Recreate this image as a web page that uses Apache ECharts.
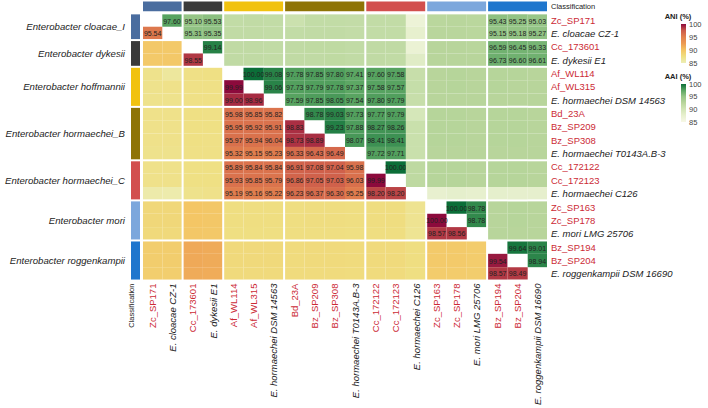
<!DOCTYPE html>
<html>
<head>
<meta charset="utf-8">
<script src="https://cdn.jsdelivr.net/npm/echarts@6/dist/echarts.min.js"></script>
<style>
html, body { margin: 0; background: #fff; }
#chart { width: 708px; height: 408px; }
</style>
</head>
<body>
<div id="chart"></div>
<script>
// kannat / strains in plot order
const strains = ['Zc_SP171', 'E. cloacae CZ-1', 'Cc_173601', 'E. dykesii E1', 'Af_WL114', 'Af_WL315',
  'E. hormaechei DSM 14563', 'Bd_23A', 'Bz_SP209', 'Bz_SP308', 'E. hormaechei T0143A.B-3',
  'Cc_172122', 'Cc_172123', 'E. hormaechei C126', 'Zc_SP163', 'Zc_SP178', 'E. mori LMG 25706',
  'Bz_SP194', 'Bz_SP204', 'E. roggenkampii DSM 16690']

const groupNames = ['Enterobacter cloacae_I', 'Enterobacter dykesii', 'Enterobacter hoffmannii',
  'Enterobacter hormaechei_B', 'Enterobacter hormaechei_C', 'Enterobacter mori', 'Enterobacter roggenkampii']
const groupSizes = [2, 2, 3, 4, 3, 3, 3]
const groupColors = ['#4a6d9f', '#3a3a3a', '#f1c20f', '#8e7406', '#d24f4e', '#7ca7dc', '#1f76cd']

// upper triangle = AAI, lower triangle = ANI
const identity = [
  [null, 97.60, 95.10, 95.53, 91.6, 91.7, 91.6, 90.8, 91.6, 91.6, 91.5, 91.6, 91.6, 86.6, 92.4, 92.5, 92.4, 95.43, 95.25, 95.03],
  [95.54, null, 95.31, 95.35, 91.7, 91.7, 91.6, 91.6, 91.7, 91.7, 91.5, 91.6, 91.6, 87.6, 92.5, 92.5, 92.4, 95.15, 95.18, 95.27],
  [89.6, 89.5, null, 99.14, 91.8, 91.8, 91.7, 91.8, 91.9, 91.9, 91.7, 91.8, 91.8, 87.0, 92.6, 92.6, 92.5, 96.59, 96.45, 96.33],
  [89.5, 89.6, 98.55, null, 91.8, 91.8, 91.7, 91.8, 91.8, 91.9, 91.7, 91.8, 91.7, 88.4, 92.6, 92.6, 92.6, 96.73, 96.60, 96.61],
  [87.0, 86.2, 87.3, 87.4, null, 100.00, 99.08, 97.78, 97.85, 97.80, 97.41, 97.60, 97.58, 91.2, 92.6, 92.7, 92.6, 92.7, 92.7, 92.6],
  [87.0, 87.1, 87.3, 87.3, 99.99, null, 99.06, 97.73, 97.79, 97.78, 97.37, 97.58, 97.57, 91.3, 92.6, 92.7, 92.6, 92.7, 92.6, 92.6],
  [87.0, 87.0, 87.3, 87.3, 99.00, 98.96, null, 97.59, 97.85, 98.05, 97.54, 97.80, 97.79, 91.2, 92.6, 92.6, 92.6, 92.6, 92.6, 92.6],
  [87.1, 87.1, 87.4, 87.3, 95.98, 95.85, 95.82, null, 98.78, 99.03, 97.73, 97.77, 97.79, 89.8, 92.7, 92.7, 92.6, 92.7, 92.7, 92.6],
  [87.1, 87.1, 87.4, 87.4, 95.95, 95.92, 95.91, 98.83, null, 99.23, 97.88, 98.27, 98.26, 91.0, 92.7, 92.7, 92.6, 92.7, 92.7, 92.6],
  [87.1, 87.1, 87.4, 87.3, 95.97, 95.94, 96.04, 98.73, 98.89, null, 98.07, 98.41, 98.41, 91.0, 92.7, 92.7, 92.6, 92.7, 92.7, 92.6],
  [87.0, 87.0, 87.3, 87.3, 95.32, 95.15, 95.23, 96.33, 96.43, 96.49, null, 97.72, 97.71, 91.0, 92.6, 92.6, 92.6, 92.6, 92.6, 92.6],
  [87.1, 87.1, 87.4, 87.4, 95.89, 95.84, 95.84, 96.91, 97.08, 97.04, 95.98, null, 100.00, 92.0, 92.7, 92.7, 92.6, 92.7, 92.7, 92.6],
  [87.1, 87.1, 87.4, 87.4, 95.93, 95.85, 95.79, 96.86, 97.05, 97.03, 96.03, 99.99, null, 92.0, 92.7, 92.7, 92.6, 92.7, 92.7, 92.6],
  [85.6, 85.5, 87.0, 87.1, 95.19, 95.16, 95.22, 96.23, 96.37, 96.30, 95.25, 98.20, 98.20, null, 87.5, 87.8, 87.6, 87.8, 87.7, 87.7],
  [88.2, 88.2, 89.8, 89.7, 87.6, 87.6, 87.6, 87.6, 87.7, 87.7, 87.6, 87.7, 87.7, 86.8, null, 100.00, 98.78, 92.6, 92.7, 92.6],
  [88.2, 88.2, 89.8, 89.7, 87.6, 87.6, 87.6, 87.6, 87.7, 87.7, 87.6, 87.7, 87.7, 86.8, 100.00, null, 98.78, 92.6, 92.7, 92.6],
  [88.1, 88.1, 89.7, 89.6, 87.5, 87.5, 87.5, 87.6, 87.6, 87.6, 87.5, 87.6, 87.6, 86.7, 98.57, 98.56, null, 92.6, 92.6, 92.6],
  [89.2, 89.2, 91.6, 91.5, 88.1, 88.1, 88.1, 87.9, 88.0, 88.0, 87.9, 88.0, 88.0, 87.6, 89.4, 89.4, 89.3, null, 99.64, 99.01],
  [89.2, 89.2, 91.6, 91.5, 88.1, 88.1, 88.1, 87.9, 88.0, 88.0, 87.9, 88.0, 88.0, 87.6, 89.4, 89.4, 89.3, 99.54, null, 98.94],
  [89.1, 89.1, 91.5, 91.4, 88.0, 88.0, 88.0, 87.9, 87.9, 87.9, 87.8, 87.9, 87.9, 87.5, 89.3, 89.3, 89.2, 98.57, 98.49, null]
]

const scaleMin = 85
const scaleMax = 100
const legendTicks = [85, 90, 95, 100]
const aniColors = ['#eceeb6', '#efdf82', '#f4c463', '#ec9a52', '#e2804e', '#cc5a4a', '#8c0a3c']
const aaiColors = ['#f7f8e6', '#e8f0cf', '#d3e6b7', '#b9d69c', '#98c688', '#5aa562', '#0b6e38']

const labelLimit = 95
const font = 'Liberation Sans, Arial, sans-serif'

// ryhmien rajat
const groupOf = []
const firstIn = []
const lastIn = []
const groupStart = []
let k = 0
groupSizes.forEach((n, g) => {
  groupStart.push(k)
  for (let i = 0; i < n; i++) {
    groupOf.push(g)
    firstIn.push(i === 0)
    lastIn.push(i === n - 1)
  }
  k += n
})

const categories = ['Classification'].concat(strains)

const aniData = []
const aaiData = []
identity.forEach((row, i) => {
  row.forEach((v, j) => {
    if (v == null) return
    if (i > j) aniData.push([j + 1, i + 1, v])
    else aaiData.push([j + 1, i + 1, v])
  })
})

function cellBox(api, xi, yi) {
  const c = api.coord([xi, yi])
  const s = api.size([1, 1])
  let x0 = c[0] - s[0] / 2, x1 = c[0] + s[0] / 2
  let y0 = c[1] - s[1] / 2, y1 = c[1] + s[1] / 2
  if (firstIn[xi - 1]) x0 += 1
  if (lastIn[xi - 1]) x1 -= 1
  if (firstIn[yi - 1]) y0 += 1
  if (lastIn[yi - 1]) y1 -= 1
  return { x0, x1, y0, y1 }
}

function renderCell(params, api) {
  const xi = api.value(0), yi = api.value(1), v = api.value(2)
  const b = cellBox(api, xi, yi)
  const children = [{
    type: 'rect',
    shape: { x: b.x0, y: b.y0, width: b.x1 - b.x0, height: b.y1 - b.y0 },
    style: { fill: api.visual('color') }
  }]
  if (v >= labelLimit) {
    children.push({
      type: 'text',
      style: {
        text: v.toFixed(2), x: (b.x0 + b.x1) / 2, y: (b.y0 + b.y1) / 2 + 0.5,
        align: 'center', verticalAlign: 'middle', fontSize: 7, fontFamily: font, fill: '#222'
      }
    })
  }
  return { type: 'group', children }
}

// luokitteluvärit ylös ja vasemmalle + ryhmien nimet
const classData = groupNames.map((name, g) => [0, 0, g])

function renderClass(params, api) {
  const g = api.value(2)
  const a = groupStart[g] + 1
  const e = groupStart[g] + groupSizes[g]
  const s = api.size([1, 1])
  const ca = api.coord([a, 0])
  const ce = api.coord([e, 0])
  const ra = api.coord([0, a])
  const re = api.coord([0, e])
  const left = ra[0] - s[0] / 2 + 9.3
  const right = ra[0] + s[0] / 2 - 2
  const top = ra[1] - s[1] / 2 + 1
  const bottom = re[1] + s[1] / 2 - 1
  return {
    type: 'group',
    children: [
      { type: 'rect', shape: { x: ca[0] - s[0] / 2 + 1, y: ca[1] - s[1] / 2 + 1.4, width: ce[0] - ca[0] + s[0] - 2, height: s[1] - 3.4 },
        style: { fill: groupColors[g] } },
      { type: 'rect', shape: { x: left, y: top, width: right - left, height: bottom - top },
        style: { fill: groupColors[g] } },
      { type: 'text', style: { text: groupNames[g], x: left - 6, y: (top + bottom) / 2,
        align: 'right', verticalAlign: 'middle', fontSize: 9.6, fontStyle: 'italic', fontFamily: font, fill: '#222' } }
    ]
  }
}

function renderLegend(colors) {
  return function (params, api) {
    const t = api.coord([0, scaleMax])
    const b = api.coord([0, scaleMin])
    const w = api.size([1, 0])[0]
    const stops = colors.slice().reverse().map((c, i) => ({ offset: i / (colors.length - 1), color: c }))
    return {
      type: 'rect',
      shape: { x: t[0] - w / 2, y: t[1], width: w, height: b[1] - t[1] },
      style: { fill: new echarts.graphic.LinearGradient(0, 0, 0, 1, stops) }
    }
  }
}

const isRef = name => name.startsWith('E. ')
const labelFormatter = (v, i) => {
  if (v === 'Classification') return '{c|' + v + '}'
  return isRef(v) ? '{k|' + v + '}' : '{r|' + v + '}'
}
const labelRich = {
  c: { fontSize: 7.5, color: '#222', fontFamily: font },
  k: { fontSize: 9.5, color: '#222', fontStyle: 'italic', fontFamily: font },
  r: { fontSize: 9.5, color: '#cc2b36', fontFamily: font }
}
const hidden = { axisLine: { show: false }, axisTick: { show: false }, splitLine: { show: false } }

function legendAxis(gridIndex, name) {
  return Object.assign({
    type: 'value', gridIndex, min: scaleMin, max: scaleMax, interval: 5, position: 'right',
    name, nameLocation: 'end', nameGap: 4,
    nameTextStyle: { fontSize: 7.5, fontWeight: 'bold', color: '#222', fontFamily: font, align: 'center', padding: [0, 16, 0, 0] },
    axisLabel: { fontSize: 7.5, color: '#444', margin: 3, fontFamily: font,
      formatter: v => legendTicks.includes(v) ? String(v) : '' }
  }, hidden)
}

const chart = echarts.init(document.getElementById('chart'), null, { renderer: 'svg' })

const option = {
  animation: false,
  backgroundColor: '#fff',
  grid: [
    { left: 121.7, right: 160, top: -1.45, bottom: 127 },
    { left: 681, top: 24, width: 5, height: 39 },
    { left: 681, top: 84, width: 5, height: 38 }
  ],
  xAxis: [
    Object.assign({
      type: 'category', data: categories, position: 'bottom',
      axisLabel: { interval: 0, rotate: 90, margin: 3, formatter: labelFormatter, rich: labelRich }
    }, hidden),
    { type: 'category', gridIndex: 1, data: [''], show: false },
    { type: 'category', gridIndex: 2, data: [''], show: false }
  ],
  yAxis: [
    Object.assign({
      type: 'category', data: categories, inverse: true, position: 'right',
      axisLabel: { interval: 0, margin: 3, formatter: labelFormatter, rich: labelRich }
    }, hidden),
    legendAxis(1, 'ANI (%)'),
    legendAxis(2, 'AAI (%)')
  ],
  visualMap: [
    { type: 'continuous', show: false, seriesIndex: 0, dimension: 2, min: scaleMin, max: scaleMax, inRange: { color: aniColors } },
    { type: 'continuous', show: false, seriesIndex: 1, dimension: 2, min: scaleMin, max: scaleMax, inRange: { color: aaiColors } }
  ],
  series: [
    { name: 'ANI', type: 'custom', renderItem: renderCell, data: aniData, encode: { x: 0, y: 1 } },
    { name: 'AAI', type: 'custom', renderItem: renderCell, data: aaiData, encode: { x: 0, y: 1 } },
    { name: 'Classification', type: 'custom', renderItem: renderClass, data: classData, encode: { x: 0, y: 1 } },
    { type: 'custom', xAxisIndex: 1, yAxisIndex: 1, renderItem: renderLegend(aniColors), data: [[0, scaleMin]] },
    { type: 'custom', xAxisIndex: 2, yAxisIndex: 2, renderItem: renderLegend(aaiColors), data: [[0, scaleMin]] }
  ]
}

chart.setOption(option)
</script>
</body>
</html>
